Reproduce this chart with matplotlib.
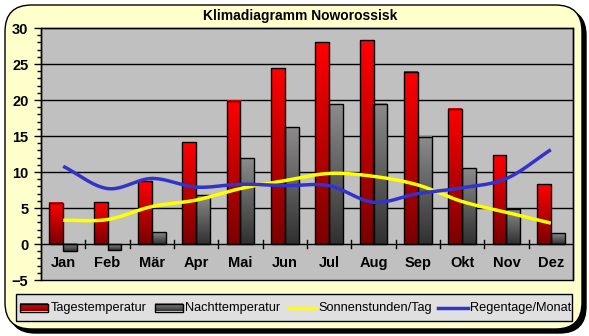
import numpy as np
import matplotlib
matplotlib.use("Agg")
import matplotlib.pyplot as plt
from matplotlib.patches import FancyBboxPatch, Rectangle
from matplotlib.colors import LinearSegmentedColormap

months = ["Jan", "Feb", "Mär", "Apr", "Mai", "Jun", "Jul", "Aug", "Sep", "Okt", "Nov", "Dez"]
tages = [5.7, 5.8, 8.7, 14.1, 19.9, 24.4, 28.0, 28.3, 23.9, 18.8, 12.3, 8.3]
nacht = [-1.0, -0.8, 1.6, 6.8, 11.9, 16.2, 19.4, 19.5, 14.9, 10.5, 4.8, 1.5]
sonne = [3.3, 3.4, 5.2, 6.1, 7.7, 8.8, 9.8, 9.4, 8.2, 5.9, 4.4, 2.9]
regen = [10.8, 7.7, 9.1, 7.9, 8.3, 8.1, 8.1, 5.8, 7.0, 7.8, 9.1, 13.1]
yticks = [-5, 0, 5, 10, 15, 20, 25, 30]
title = "Klimadiagramm Noworossisk"
labels = ["Tagestemperatur", "Nachttemperatur", "Sonnenstunden/Tag", "Regentage/Monat"]

plt.rcParams['font.family'] = ['Liberation Sans', 'DejaVu Sans']

W, H = 589, 336
fig = plt.figure(figsize=(W / 100, H / 100), dpi=100)
fig.patch.set_facecolor("white")


def fx(px):
    return px / W


def fy(py):
    return 1 - py / H


# rounded background with shadow
shadow = FancyBboxPatch((fx(9), fy(333)), fx(577), 324 / H,
                        boxstyle="round,pad=0,rounding_size=0.045",
                        transform=fig.transFigure, facecolor="black", edgecolor="black",
                        mutation_aspect=W / H, zorder=0)
bg = FancyBboxPatch((fx(5), fy(329)), fx(577), 324 / H,
                    boxstyle="round,pad=0,rounding_size=0.045",
                    transform=fig.transFigure, facecolor="#FFFFCC", edgecolor="black",
                    linewidth=1.0, mutation_aspect=W / H, zorder=1)
fig.patches.extend([shadow, bg])

ax = fig.add_axes([41 / W, 56 / H, 532 / W, 252 / H])
ax.set_zorder(2)
ax.set_facecolor("#C0C0C0")
ax.set_xlim(0, 12)
ax.set_ylim(-5, 30)

for yv in [5, 10, 15, 20, 25]:
    ax.axhline(yv, color="black", linewidth=1.0, zorder=1)

red_cmap = LinearSegmentedColormap.from_list("r", ["#7A0000", "#FF0000"])
grey_cmap = LinearSegmentedColormap.from_list("g", ["#303030", "#8C8C8C"])
grad = np.linspace(0, 1, 256).reshape(-1, 1)

bw = 0.315
xc = np.arange(12) + 0.5
for i in range(12):
    for val, x0, cmap in [(tages[i], xc[i] - bw, red_cmap), (nacht[i], xc[i], grey_cmap)]:
        lo, hi = (0, val) if val >= 0 else (val, 0)
        ax.imshow(grad, cmap=cmap, aspect="auto", origin="lower",
                  extent=[x0, x0 + bw, lo, hi], zorder=2, interpolation="bilinear")
        ax.add_patch(Rectangle((x0, lo), bw, hi - lo, facecolor="none",
                               edgecolor="black", linewidth=1.0, zorder=3))


def catmull(xs, ys, n=30):
    xs = np.asarray(xs, float)
    ys = np.asarray(ys, float)
    P = np.column_stack([xs, ys])
    P = np.vstack([2 * P[0] - P[1], P, 2 * P[-1] - P[-2]])
    out = []
    for k in range(1, len(P) - 2):
        p0, p1, p2, p3 = P[k - 1], P[k], P[k + 1], P[k + 2]
        t = np.linspace(0, 1, n)[:, None]
        seg = 0.5 * ((2 * p1) + (-p0 + p2) * t + (2 * p0 - 5 * p1 + 4 * p2 - p3) * t ** 2
                     + (-p0 + 3 * p1 - 3 * p2 + p3) * t ** 3)
        out.append(seg)
    out = np.vstack(out)
    return out[:, 0], out[:, 1]


sx, sy = catmull(xc, sonne)
rx, ry = catmull(xc, regen)
ax.plot(sx, sy, color="#FFFF00", linewidth=2.5, zorder=4, solid_capstyle="butt")
ax.plot(rx, ry, color="#3333CC", linewidth=2.5, zorder=4, solid_capstyle="butt")

# axes
for s in ["top", "right", "left"]:
    ax.spines[s].set_linewidth(1.0)
ax.spines["bottom"].set_visible(False)
ax.axhline(0, color="black", linewidth=1.0, zorder=3)
ax.add_patch(Rectangle((0, -5), 12, 35, fill=False, edgecolor="black", linewidth=1.0,
                       zorder=5, clip_on=False))

ax.set_yticks(yticks)
ax.set_yticks(np.arange(-5, 31, 1), minor=True)
ax.tick_params(axis="y", which="major", length=5, width=1, labelsize=10.5, pad=4)
ax.tick_params(axis="y", which="minor", length=3, width=1)
for lab in ax.get_yticklabels():
    lab.set_fontweight("bold")

ax.set_xticks([])
ax.xaxis.set_visible(False)
for i in range(1, 12):
    ax.plot([i, i], [-0.6, 0.6], color="black", linewidth=1.0, zorder=3, clip_on=False)
for i, m in enumerate(months):
    ax.text(xc[i], -2.65, m, ha="center", va="center", fontsize=10.5, fontweight="bold",
            zorder=5)

fig.text(fx(300), fy(16), title, ha="center", va="center", fontsize=10,
         fontweight="bold", zorder=3)

# manual legend
lax = fig.add_axes([0, 0, 1, 1], facecolor="none")
lax.set_zorder(6)
lax.axis("off")
lax.add_patch(Rectangle((16, 294), 556, 27, facecolor="#E0E0E0", edgecolor="black",
                        linewidth=1.0))
ly = 307.5
for x0, cmap in [(20, red_cmap), (155, grey_cmap)]:
    lax.imshow(grad, cmap=cmap, aspect="auto", origin="lower",
               extent=[x0, x0 + 28, 311.5, 304], interpolation="bilinear", zorder=7)
    lax.add_patch(Rectangle((x0, 304), 28, 7.5, facecolor="none", edgecolor="black",
                            linewidth=1.0, zorder=8))
lax.plot([288, 316], [ly, ly], color="#FFFF00", linewidth=2.5, zorder=7)
lax.plot([438, 468], [ly, ly], color="#3333CC", linewidth=2.5, zorder=7)
for xt, lab in zip([51, 185, 318, 470], labels):
    lax.text(xt, ly, lab, ha="left", va="center", fontsize=9.2, zorder=8)
lax.set_xlim(0, W)
lax.set_ylim(H, 0)

fig.savefig("out.png", dpi=100)
